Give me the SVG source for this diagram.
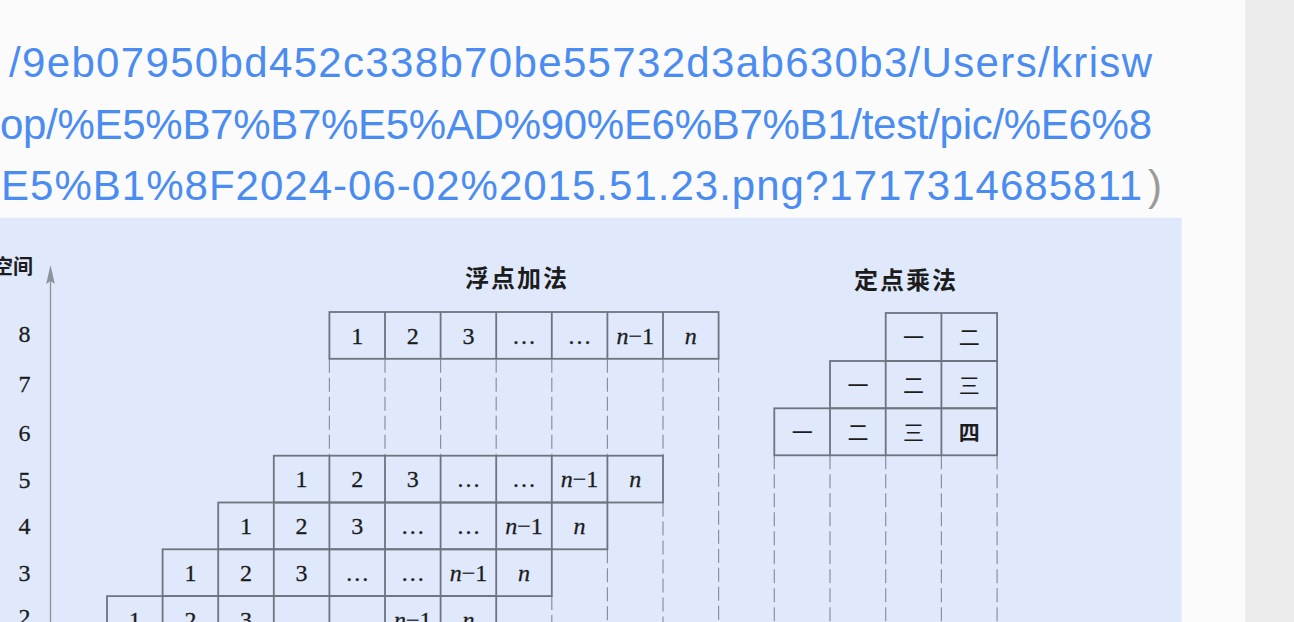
<svg xmlns="http://www.w3.org/2000/svg" width="1294" height="622" viewBox="0 0 1294 622">
<defs>
<style>
.url{font-family:"Liberation Sans","Noto Sans",Arial,sans-serif;font-size:42px;fill:#4a8cf2}
.paren{font-family:"Liberation Sans","Noto Sans",Arial,sans-serif;font-size:42px;fill:#9a9a9a}
.cell{fill:none;stroke:#6d747e;stroke-width:1.8}
.sep{stroke:#6d747e;stroke-width:1.8}
.dash{stroke:#8a919b;stroke-width:1.2;stroke-dasharray:14 5;fill:none}
.num{font-family:"Liberation Serif","Times New Roman",serif;font-size:24px;fill:#1c1c1c;stroke:#1c1c1c;stroke-width:0.3;text-anchor:middle}
.it{font-style:italic}
.cjk{font-family:"Noto Sans CJK SC","Noto Sans CJK JP",sans-serif;font-size:21px;fill:#1c1c1c;text-anchor:middle}
.title{font-family:"Noto Sans CJK SC","Noto Sans CJK JP",sans-serif;font-size:24px;font-weight:700;fill:#1c1c1c;text-anchor:middle;letter-spacing:2px}
.lbl{font-family:"Liberation Serif","Times New Roman",serif;font-size:24px;fill:#1c1c1c;stroke:#1c1c1c;stroke-width:0.3;text-anchor:middle}
</style>
</defs>

<g id="page">
<rect x="0" y="0" width="1294" height="622" fill="#fbfbfb"/>
<rect x="1245.5" y="0" width="48.5" height="622" fill="#ebebeb"/>
<rect x="0" y="217.7" width="1181.7" height="404.3" fill="#dfe9fb"/>
</g>

<g id="url-text">
<text class="url" x="9" y="77" textLength="1143" lengthAdjust="spacing">/9eb07950bd452c338b70be55732d3ab630b3/Users/krisw</text>
<text class="url" x="0" y="139" textLength="1152" lengthAdjust="spacing">op/%E5%B7%B7%E5%AD%90%E6%B7%B1/test/pic/%E6%8</text>
<text class="url" x="1" y="200" textLength="1141" lengthAdjust="spacing">E5%B1%8F2024-06-02%2015.51.23.png?1717314685811</text>
<text class="paren" x="1148" y="200">)</text>
</g>

<g id="axis">
<text x="33" y="273.6" font-family="Noto Sans CJK SC,Noto Sans CJK JP,sans-serif" font-size="20" font-weight="700" fill="#1c1c1c" text-anchor="end">空间</text>
<line x1="50.5" y1="280" x2="50.5" y2="622" stroke="#8b929b" stroke-width="1.3"/>
<polygon points="50.5,265 54.8,284 50.5,281 46.2,284" fill="#8b929b"/>
<text class="lbl" x="24.5" y="342">8</text>
<text class="lbl" x="24.5" y="391.5">7</text>
<text class="lbl" x="24.5" y="440.5">6</text>
<text class="lbl" x="24.5" y="487.5">5</text>
<text class="lbl" x="24.5" y="534">4</text>
<text class="lbl" x="24.5" y="581">3</text>
<text class="lbl" x="24.5" y="625">2</text>
</g>

<g id="connectors">
<path class="dash" d="M329.4,358.8V455.7 M385,358.8V455.7 M440.6,358.8V455.7 M496.2,358.8V455.7 M551.8,358.8V455.7 M551.8,596.1V622 M607.4,358.8V455.7 M607.4,549.3V622 M663,358.8V455.7 M663,502.5V622 M718.6,358.8V622"/>
<path class="dash" d="M774.3,455.3V622 M830,455.3V622 M885.7,455.3V622 M941.4,455.3V622 M997.1,455.3V622"/>
</g>

<g id="fp-title"><text class="title" x="517" y="287">浮点加法</text></g>

<g id="fp-row8">
<rect class="cell" x="329.4" y="312" width="389.2" height="46.8"/>
<path class="sep" d="M385,312V358.8 M440.6,312V358.8 M496.2,312V358.8 M551.8,312V358.8 M607.4,312V358.8 M663,312V358.8"/>
<text class="num" x="357.2" y="343.7">1</text>
<text class="num" x="412.8" y="343.7">2</text>
<text class="num" x="468.4" y="343.7">3</text>
<text class="num" x="524" y="343.7">…</text>
<text class="num" x="579.6" y="343.7">…</text>
<text class="num" x="635.2" y="343.7"><tspan class="it">n</tspan>−1</text>
<text class="num it" x="690.8" y="343.7">n</text>
</g>

<g id="fp-row5">
<rect class="cell" x="273.8" y="455.7" width="389.2" height="46.8"/>
<path class="sep" d="M329.4,455.7V502.5 M385,455.7V502.5 M440.6,455.7V502.5 M496.2,455.7V502.5 M551.8,455.7V502.5 M607.4,455.7V502.5"/>
<text class="num" x="301.6" y="487.4">1</text>
<text class="num" x="357.2" y="487.4">2</text>
<text class="num" x="412.8" y="487.4">3</text>
<text class="num" x="468.4" y="487.4">…</text>
<text class="num" x="524" y="487.4">…</text>
<text class="num" x="579.6" y="487.4"><tspan class="it">n</tspan>−1</text>
<text class="num it" x="635.2" y="487.4">n</text>
</g>

<g id="fp-row4">
<rect class="cell" x="218.2" y="502.5" width="389.2" height="46.8"/>
<path class="sep" d="M273.8,502.5V549.3 M329.4,502.5V549.3 M385,502.5V549.3 M440.6,502.5V549.3 M496.2,502.5V549.3 M551.8,502.5V549.3"/>
<text class="num" x="246" y="534.2">1</text>
<text class="num" x="301.6" y="534.2">2</text>
<text class="num" x="357.2" y="534.2">3</text>
<text class="num" x="412.8" y="534.2">…</text>
<text class="num" x="468.4" y="534.2">…</text>
<text class="num" x="524" y="534.2"><tspan class="it">n</tspan>−1</text>
<text class="num it" x="579.6" y="534.2">n</text>
</g>

<g id="fp-row3">
<rect class="cell" x="162.6" y="549.3" width="389.2" height="46.8"/>
<path class="sep" d="M218.2,549.3V596.1 M273.8,549.3V596.1 M329.4,549.3V596.1 M385,549.3V596.1 M440.6,549.3V596.1 M496.2,549.3V596.1"/>
<text class="num" x="190.4" y="581">1</text>
<text class="num" x="246" y="581">2</text>
<text class="num" x="301.6" y="581">3</text>
<text class="num" x="357.2" y="581">…</text>
<text class="num" x="412.8" y="581">…</text>
<text class="num" x="468.4" y="581"><tspan class="it">n</tspan>−1</text>
<text class="num it" x="524" y="581">n</text>
</g>

<g id="fp-row2">
<path class="cell" d="M107,622V596.1H496.2V622"/>
<path class="sep" d="M162.6,596.1V622 M218.2,596.1V622 M273.8,596.1V622 M329.4,596.1V622 M385,596.1V622 M440.6,596.1V622"/>
<text class="num" x="134.8" y="627.8">1</text>
<text class="num" x="190.4" y="627.8">2</text>
<text class="num" x="246" y="627.8">3</text>
<text class="num" x="412.8" y="627.8"><tspan class="it">n</tspan>−1</text>
<text class="num it" x="468.4" y="627.8">n</text>
</g>

<g id="fx-title"><text class="title" x="906" y="289">定点乘法</text></g>

<g id="fx-row8">
<rect class="cell" x="885.7" y="313" width="111.4" height="48"/>
<path class="sep" d="M941.4,313V361"/>
<text class="cjk" x="913.6" y="345.4">一</text>
<text class="cjk" x="969.3" y="345.4">二</text>
</g>

<g id="fx-row7">
<rect class="cell" x="830" y="361" width="167.1" height="47.3"/>
<path class="sep" d="M885.7,361V408.3 M941.4,361V408.3"/>
<text class="cjk" x="857.9" y="393">一</text>
<text class="cjk" x="913.6" y="393">二</text>
<text class="cjk" x="969.3" y="393">三</text>
</g>

<g id="fx-row6">
<rect class="cell" x="774.3" y="408.3" width="222.8" height="47"/>
<path class="sep" d="M830,408.3V455.3 M885.7,408.3V455.3 M941.4,408.3V455.3"/>
<text class="cjk" x="802.2" y="440.2">一</text>
<text class="cjk" x="857.9" y="440.2">二</text>
<text class="cjk" x="913.6" y="440.2">三</text>
<text class="cjk" x="969.3" y="440.2" font-weight="700">四</text>
</g>
</svg>
